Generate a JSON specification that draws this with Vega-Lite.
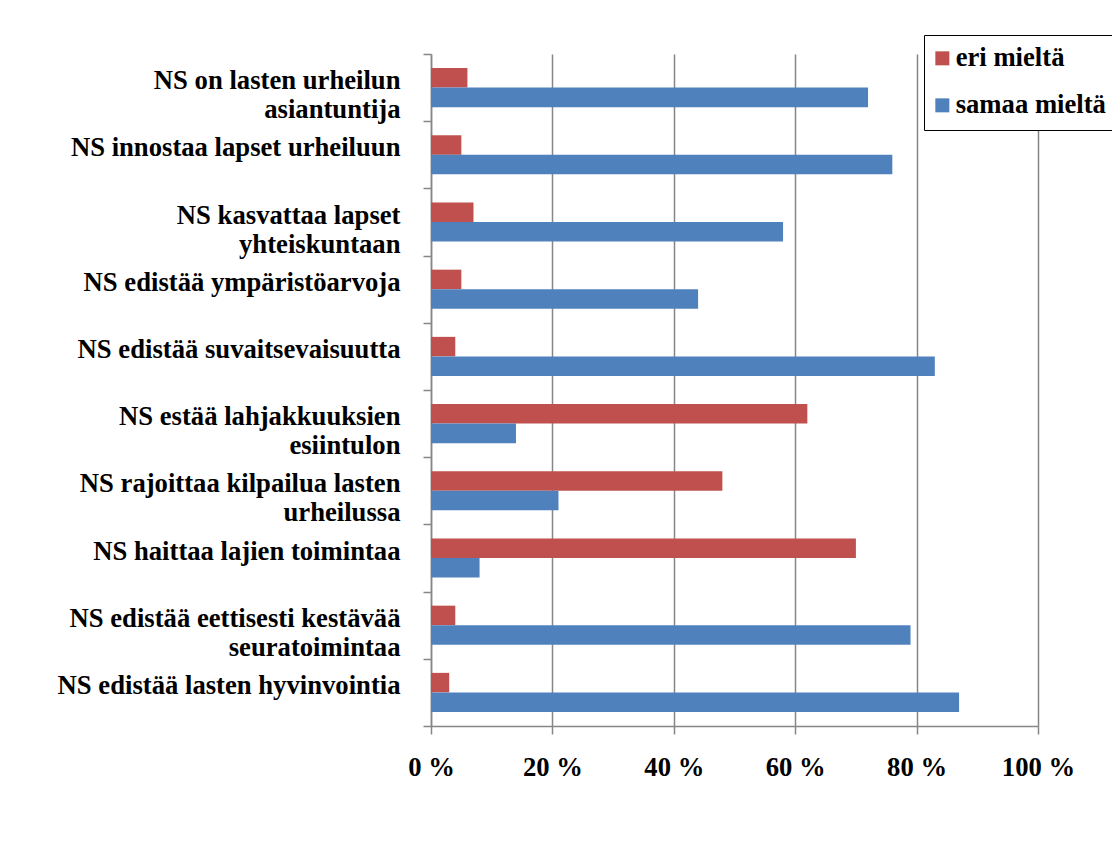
{
  "$schema": "https://vega.github.io/schema/vega-lite/v6.json",
  "width": 607,
  "height": 672,
  "autosize": {"type": "none"},
  "padding": {"left": 431, "top": 54, "right": 74, "bottom": 118},
  "background": "white",
  "config": {"view": {"stroke": null}},
  "data": {
    "values": [
      {"category": "NS on lasten urheilun\nasiantuntija", "series": "eri mieltä", "value": 6},
      {"category": "NS on lasten urheilun\nasiantuntija", "series": "samaa mieltä", "value": 72},
      {"category": "NS innostaa lapset urheiluun", "series": "eri mieltä", "value": 5},
      {"category": "NS innostaa lapset urheiluun", "series": "samaa mieltä", "value": 76},
      {"category": "NS kasvattaa lapset\nyhteiskuntaan", "series": "eri mieltä", "value": 7},
      {"category": "NS kasvattaa lapset\nyhteiskuntaan", "series": "samaa mieltä", "value": 58},
      {"category": "NS edistää ympäristöarvoja", "series": "eri mieltä", "value": 5},
      {"category": "NS edistää ympäristöarvoja", "series": "samaa mieltä", "value": 44},
      {"category": "NS edistää suvaitsevaisuutta", "series": "eri mieltä", "value": 4},
      {"category": "NS edistää suvaitsevaisuutta", "series": "samaa mieltä", "value": 83},
      {"category": "NS estää lahjakkuuksien\nesiintulon", "series": "eri mieltä", "value": 62},
      {"category": "NS estää lahjakkuuksien\nesiintulon", "series": "samaa mieltä", "value": 14},
      {"category": "NS rajoittaa kilpailua lasten\nurheilussa", "series": "eri mieltä", "value": 48},
      {"category": "NS rajoittaa kilpailua lasten\nurheilussa", "series": "samaa mieltä", "value": 21},
      {"category": "NS haittaa lajien toimintaa", "series": "eri mieltä", "value": 70},
      {"category": "NS haittaa lajien toimintaa", "series": "samaa mieltä", "value": 8},
      {"category": "NS edistää eettisesti kestävää\nseuratoimintaa", "series": "eri mieltä", "value": 4},
      {"category": "NS edistää eettisesti kestävää\nseuratoimintaa", "series": "samaa mieltä", "value": 79},
      {"category": "NS edistää lasten hyvinvointia", "series": "eri mieltä", "value": 3},
      {"category": "NS edistää lasten hyvinvointia", "series": "samaa mieltä", "value": 87}
    ]
  },
  "mark": {"type": "bar"},
  "encoding": {
    "y": {
      "field": "category",
      "type": "nominal",
      "sort": null,
      "scale": {"paddingInner": 0, "paddingOuter": 0},
      "axis": {
        "title": null,
        "tickBand": "extent",
        "tickSize": 8,
        "tickColor": "#868686",
        "tickWidth": 1.5,
        "domainColor": "#868686",
        "domainWidth": 1.5,
        "labelExpr": "split(datum.label, '\\n')",
        "labelAlign": "right",
        "labelBaseline": "middle",
        "labelOffset": -7,
        "labelLineHeight": 29,
        "labelFont": "Liberation Serif",
        "labelFontWeight": "bold",
        "labelFontSize": 26.67,
        "labelColor": "black",
        "labelLimit": 0,
        "labelPadding": 23
      }
    },
    "yOffset": {
      "field": "series",
      "type": "nominal",
      "sort": ["eri mieltä", "samaa mieltä"],
      "scale": {"paddingInner": 0, "paddingOuter": 0.72}
    },
    "x": {
      "field": "value",
      "type": "quantitative",
      "scale": {"domain": [0, 100], "nice": false},
      "axis": {
        "title": null,
        "values": [0, 20, 40, 60, 80, 100],
        "grid": true,
        "gridColor": "#868686",
        "gridWidth": 1.5,
        "domainColor": "#868686",
        "domainWidth": 1.5,
        "tickColor": "#868686",
        "tickWidth": 1.5,
        "tickSize": 8,
        "labelExpr": "datum.value + ' %'",
        "labelFont": "Liberation Serif",
        "labelFontWeight": "bold",
        "labelFontSize": 26.67,
        "labelColor": "black",
        "labelPadding": 20,
        "labelFlush": false,
        "labelOverlap": false
      }
    },
    "color": {
      "field": "series",
      "type": "nominal",
      "scale": {"domain": ["eri mieltä", "samaa mieltä"], "range": ["#C0504D", "#4F81BD"]},
      "legend": {
        "title": null,
        "orient": "none",
        "legendX": 493,
        "legendY": -19,
        "padding": 10,
        "strokeColor": "black",
        "fillColor": "white",
        "symbolType": "square",
        "symbolSize": 196,
        "symbolStrokeWidth": 0,
        "symbolOffset": -5,
        "labelFont": "Liberation Serif",
        "labelFontWeight": "bold",
        "labelFontSize": 26.67,
        "labelColor": "black",
        "labelOffset": 0,
        "labelLimit": 0,
        "rowPadding": 19,
        "encode": {
          "legend": {"strokeWidth": {"value": 2}}
        }
      }
    }
  }
}
